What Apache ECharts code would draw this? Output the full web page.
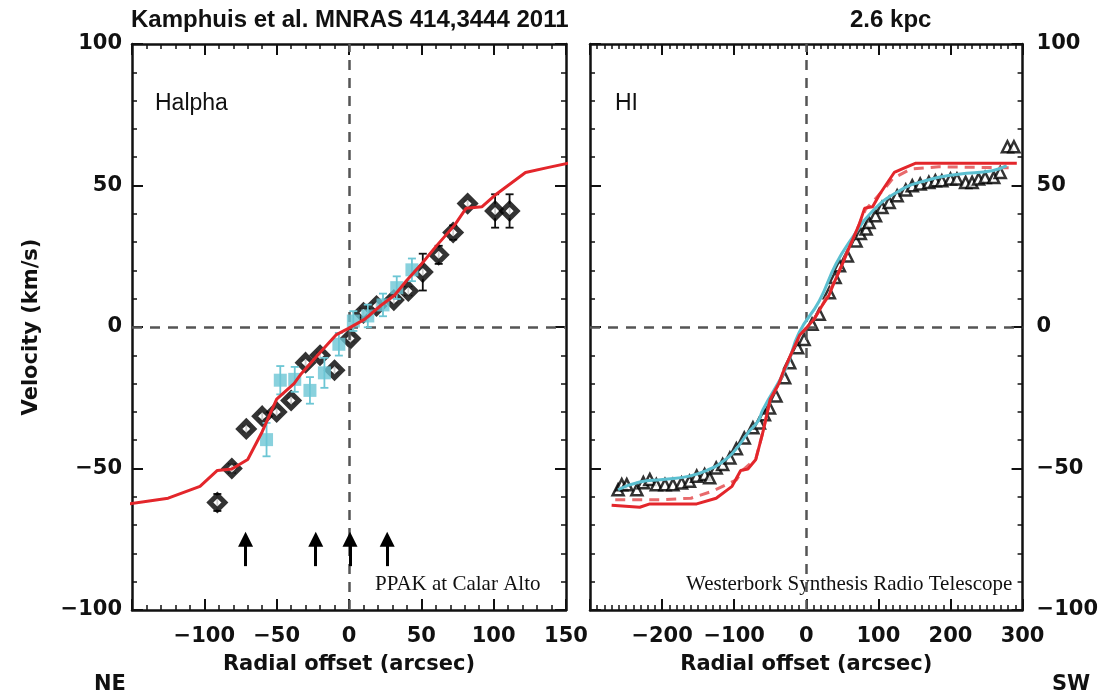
<!DOCTYPE html>
<html>
<head>
<meta charset="utf-8">
<script src="https://cdn.jsdelivr.net/npm/echarts@6/dist/echarts.min.js"></script>
<style>
  html, body { margin: 0; padding: 0; background: #fff; }
  #rotCurve { width: 1101px; height: 698px; }
</style>
</head>
<body>
<div id="rotCurve"></div>
<script>
  // Halpha (PPAK) points, black diamonds
  var haX = [-91, -81, -71, -60, -50, -40, -30, -20, -10, 1, 10, 19, 31, 41, 51, 62, 72, 82, 101, 111]
  var haV = [-62, -50, -36, -31.5, -30, -26, -12.6, -10, -15.3, -4.1, 5, 7.4, 9.5, 12.7, 19.4, 25.5, 33.4, 43.6, 41, 41]
  var haErr = [3, 1.5, 1, 1, 1, 1, 1, 1, 1, 1, 1.5, 1, 1, 1.5, 6.5, 3.2, 2.5, 1, 5.9, 5.9]

  // second Halpha set, light blue
  var ppX = [-57, -47.5, -37.5, -27, -17, -7, 3, 13, 23.5, 33, 43.5]
  var ppV = [-39.8, -18.8, -18.5, -22.4, -16.2, -6.1, 2.1, 3.9, 7.8, 13.9, 20.2]
  var ppErr = [5.9, 5, 4.4, 4.7, 5.3, 4, 3.5, 4, 4, 4, 4]

  // model curve (red), same in both panels
  var modelX = [-270, -231, -217, -152, -125, -103, -91, -81, -70, -60, -50, -38, -33, -20, -9, 0, 11, 22, 31.5, 40, 50, 60, 73, 81, 92, 102, 122, 138, 152, 292]
  var modelV = [-63, -63.7, -62.5, -62.5, -60.5, -56.3, -50.7, -50.2, -46.8, -37, -25.5, -20, -16.5, -9, -2.8, -0.4, 2.8, 7.6, 11.2, 16.5, 22.2, 28.4, 36, 42, 42.5, 47, 54.6, 56.4, 57.9, 57.9]

  // second model (red dashed)
  var dashX = [-265, -200, -160, -130, -97, -88, -70, -60, -50, -38, -20, -9, 0, 11, 22, 40, 60, 73, 82, 95, 110, 120, 145, 184, 290]
  var dashV = [-61, -61, -60.5, -58, -54, -50.6, -46.5, -37, -25.5, -20, -9, -2.8, -0.4, 2.8, 7.6, 16.5, 28.4, 36, 41.5, 45, 49.3, 52.5, 55.8, 56.6, 56.2]

  // HI points, open triangles
  var hiX = [-261, -256, -249, -235, -226, -217, -208, -196, -185, -173, -162, -152, -141, -134, -125, -116, -106, -97, -86, -74, -65, -58, -51, -42, -30, -23, -12, -3, 8, 18, 32, 40, 46, 57, 69, 75, 83, 87, 96, 105, 115, 126, 138, 147, 158, 170, 179, 188, 200, 209, 221, 230, 239, 248, 260, 269, 279, 288]
  var hiV = [-57.5, -55.7, -55.7, -57.5, -55, -53.9, -55.7, -55.7, -55.7, -55.1, -54.5, -52.7, -52.1, -53.3, -49.8, -48.6, -46.3, -43, -39.2, -35.6, -33.9, -31, -28.6, -24.4, -17.9, -12.6, -7.3, -4.4, 1, 4.5, 12.1, 17.5, 21.6, 25.1, 30.4, 33, 34.6, 36.9, 39.3, 42.2, 44, 46.4, 48.4, 49.9, 50.5, 51.1, 51.7, 51.7, 52.3, 52.3, 51.1, 51.1, 52.3, 52.8, 52.8, 54.6, 63.7, 63.7]

  // HI fit (light blue line)
  var fitX = [-261, -231, -199, -162, -130, -120, -102, -79, -67, -60, -28, -10, 18, 41, 64, 92, 129, 165, 211, 258, 278]
  var fitV = [-57.5, -54.8, -53.9, -52.7, -49.8, -48.3, -44.5, -36.8, -33.3, -29.1, -14.4, -2, 9.2, 22.2, 31.6, 41, 48.1, 51.7, 54, 55.2, 57]

  // slit positions (arrows)
  var arrowX = [-71.5, -23, 0.7, 26.4]

  var zip = function(xs, ys) { return xs.map(function(x, i) { return [x, ys[i]] }) }
  var minus = function(v) { return v < 0 ? '\u2212' + Math.abs(v) : String(v) }

  var fontSans = 'DejaVu Sans'
  var tickFont = { fontFamily: fontSans, fontSize: 21, fontWeight: 'bold', color: '#111' }
  var nameFont = { fontFamily: fontSans, fontSize: 21, fontWeight: 'bold', color: '#111' }

  function errBars(color, lw) {
    return function(params, api) {
      var x = api.value(0)
      var top = api.coord([x, api.value(2)])
      var bot = api.coord([x, api.value(1)])
      var w = 4
      var st = { stroke: color, lineWidth: lw }
      return {
        type: 'group',
        children: [
          { type: 'line', shape: { x1: top[0], y1: top[1], x2: bot[0], y2: bot[1] }, style: st },
          { type: 'line', shape: { x1: top[0] - w, y1: top[1], x2: top[0] + w, y2: top[1] }, style: st },
          { type: 'line', shape: { x1: bot[0] - w, y1: bot[1], x2: bot[0] + w, y2: bot[1] }, style: st }
        ]
      }
    }
  }

  function xAxisOf(grid, pos, min, max, interval, minorSplit, showLabel) {
    return {
      type: 'value', gridIndex: grid, position: pos, min: min, max: max, interval: interval,
      axisLine: { show: true, onZero: false, lineStyle: { color: '#111', width: 2.5 } },
      axisTick: { show: true, inside: true, length: 11, lineStyle: { color: '#111', width: 2 } },
      minorTick: { show: true, splitNumber: minorSplit, length: 5, lineStyle: { color: '#111', width: 1.5 } },
      splitLine: { show: false },
      axisLabel: {
        show: showLabel, margin: 16, ...tickFont,
        formatter: function(v) { return v === min ? '' : minus(v) }
      }
    }
  }

  function yAxisOf(grid, pos, showLabel) {
    return {
      type: 'value', gridIndex: grid, position: pos, min: -100, max: 100, interval: 50,
      axisLine: { show: true, onZero: false, lineStyle: { color: '#111', width: 2.5 } },
      axisTick: { show: true, inside: true, length: 11, lineStyle: { color: '#111', width: 2 } },
      minorTick: { show: true, splitNumber: 5, length: 5, lineStyle: { color: '#111', width: 1.5 } },
      splitLine: { show: false },
      axisLabel: { show: showLabel, margin: pos === 'left' ? 10 : 14, ...tickFont, formatter: minus }
    }
  }

  var zeroLines = {
    silent: true,
    symbol: 'none',
    label: { show: false },
    lineStyle: { color: '#555', width: 2.5, type: [10, 8] },
    data: [{ xAxis: 0 }, { yAxis: 0 }]
  }

  var xName = {
    name: 'Radial offset (arcsec)',
    nameLocation: 'middle',
    nameGap: 44,
    nameTextStyle: nameFont
  }

  var option = {
    animation: false,
    backgroundColor: '#fff',
    grid: [
      { left: 132, top: 44, width: 434, height: 566 },
      { left: 590, top: 44, width: 434, height: 566 }
    ],
    xAxis: [
      Object.assign(xAxisOf(0, 'bottom', -150, 150, 50, 5, true), xName),
      xAxisOf(0, 'top', -150, 150, 50, 5, false),
      Object.assign(xAxisOf(1, 'bottom', -300, 300, 100, 10, true), xName),
      xAxisOf(1, 'top', -300, 300, 100, 10, false)
    ],
    yAxis: [
      Object.assign(yAxisOf(0, 'left', true), {
        name: 'Velocity (km/s)', nameLocation: 'middle', nameRotate: 90, nameGap: 90,
        nameTextStyle: nameFont
      }),
      yAxisOf(0, 'right', false),
      yAxisOf(1, 'left', false),
      yAxisOf(1, 'right', true)
    ],
    series: [
      // ---- left panel: Halpha
      {
        name: 'haErr', type: 'custom', xAxisIndex: 0, yAxisIndex: 0, z: 3,
        renderItem: errBars('#111', 1.8),
        data: haX.map(function(x, i) { return [x, haV[i] - haErr[i], haV[i] + haErr[i]] })
      },
      {
        name: 'Halpha', type: 'scatter', xAxisIndex: 0, yAxisIndex: 0, z: 4,
        symbol: 'diamond', symbolSize: 15,
        itemStyle: { color: '#fff', borderColor: '#000', borderWidth: 5 },
        data: zip(haX, haV)
      },
      {
        name: 'ppErr', type: 'custom', xAxisIndex: 0, yAxisIndex: 0, z: 5,
        renderItem: errBars('#6cc6d4', 1.8),
        data: ppX.map(function(x, i) { return [x, ppV[i] - ppErr[i], ppV[i] + ppErr[i]] })
      },
      {
        name: 'PPAK', type: 'scatter', xAxisIndex: 0, yAxisIndex: 0, z: 6,
        symbol: 'rect', symbolSize: 13,
        itemStyle: { color: '#6cc6d4' },
        data: zip(ppX, ppV)
      },
      {
        name: 'model', type: 'line', xAxisIndex: 0, yAxisIndex: 0, z: 7,
        symbol: 'none', lineStyle: { color: '#e3262b', width: 3 },
        data: zip(modelX, modelV),
        markLine: zeroLines
      },
      {
        name: 'slits', type: 'line', xAxisIndex: 0, yAxisIndex: 0, z: 8,
        data: [],
        markLine: {
          silent: true,
          symbol: ['none', 'triangle'],
          symbolSize: 15,
          label: { show: false },
          lineStyle: { color: '#000', width: 3, type: 'solid' },
          data: arrowX.map(function(x) { return [{ coord: [x, -84.5] }, { coord: [x, -75] }] })
        }
      },
      // ---- right panel: HI
      {
        name: 'HI', type: 'scatter', xAxisIndex: 2, yAxisIndex: 3, z: 3,
        symbol: 'triangle', symbolSize: 11,
        itemStyle: { color: '#fff', borderColor: '#000', borderWidth: 2.5 },
        data: zip(hiX, hiV),
        markLine: zeroLines
      },
      {
        name: 'model2', type: 'line', xAxisIndex: 2, yAxisIndex: 3, z: 4,
        symbol: 'none', lineStyle: { color: '#e86a6c', width: 3, type: [10, 7] },
        data: zip(dashX, dashV)
      },
      {
        name: 'fit', type: 'line', xAxisIndex: 2, yAxisIndex: 3, z: 5,
        symbol: 'none', smooth: true, lineStyle: { color: '#5bbfd0', width: 3 },
        data: zip(fitX, fitV)
      },
      {
        name: 'model', type: 'line', xAxisIndex: 2, yAxisIndex: 3, z: 6,
        symbol: 'none', lineStyle: { color: '#e3262b', width: 3 },
        data: zip(modelX, modelV),
        markLine: {
          silent: true, symbol: 'none', label: { show: false },
          lineStyle: { color: '#000', width: 5, type: 'solid' },
          data: [[{ coord: [100, 85] }, { coord: [100, 101.5] }]]
        }
      }
    ],
    graphic: [
      { type: 'text', left: 131, top: 8, style: { text: 'Kamphuis et al. MNRAS 414,3444 2011', font: 'bold 24px "Liberation Sans"', fill: '#111' } },
      { type: 'text', left: 850, top: 8, style: { text: '2.6 kpc', font: 'bold 24px "Liberation Sans"', fill: '#111' } },
      { type: 'text', left: 155, top: 92, style: { text: 'Halpha', font: '23px "Liberation Sans"', fill: '#111' } },
      { type: 'text', left: 615, top: 92, style: { text: 'HI', font: '23px "Liberation Sans"', fill: '#111' } },
      { type: 'text', left: 375, top: 574, style: { text: 'PPAK at Calar Alto', font: '21px "Liberation Serif"', fill: '#111' } },
      { type: 'text', left: 686, top: 574, style: { text: 'Westerbork Synthesis Radio Telescope', font: '21px "Liberation Serif"', fill: '#111' } },
      { type: 'text', left: 94, top: 674, style: { text: 'NE', font: 'bold 21px "DejaVu Sans"', fill: '#111' } },
      { type: 'text', left: 1052, top: 674, style: { text: 'SW', font: 'bold 21px "DejaVu Sans"', fill: '#111' } }
    ]
  }

  var myChart = echarts.init(document.getElementById('rotCurve'))
  myChart.setOption(option)
</script>
</body>
</html>
